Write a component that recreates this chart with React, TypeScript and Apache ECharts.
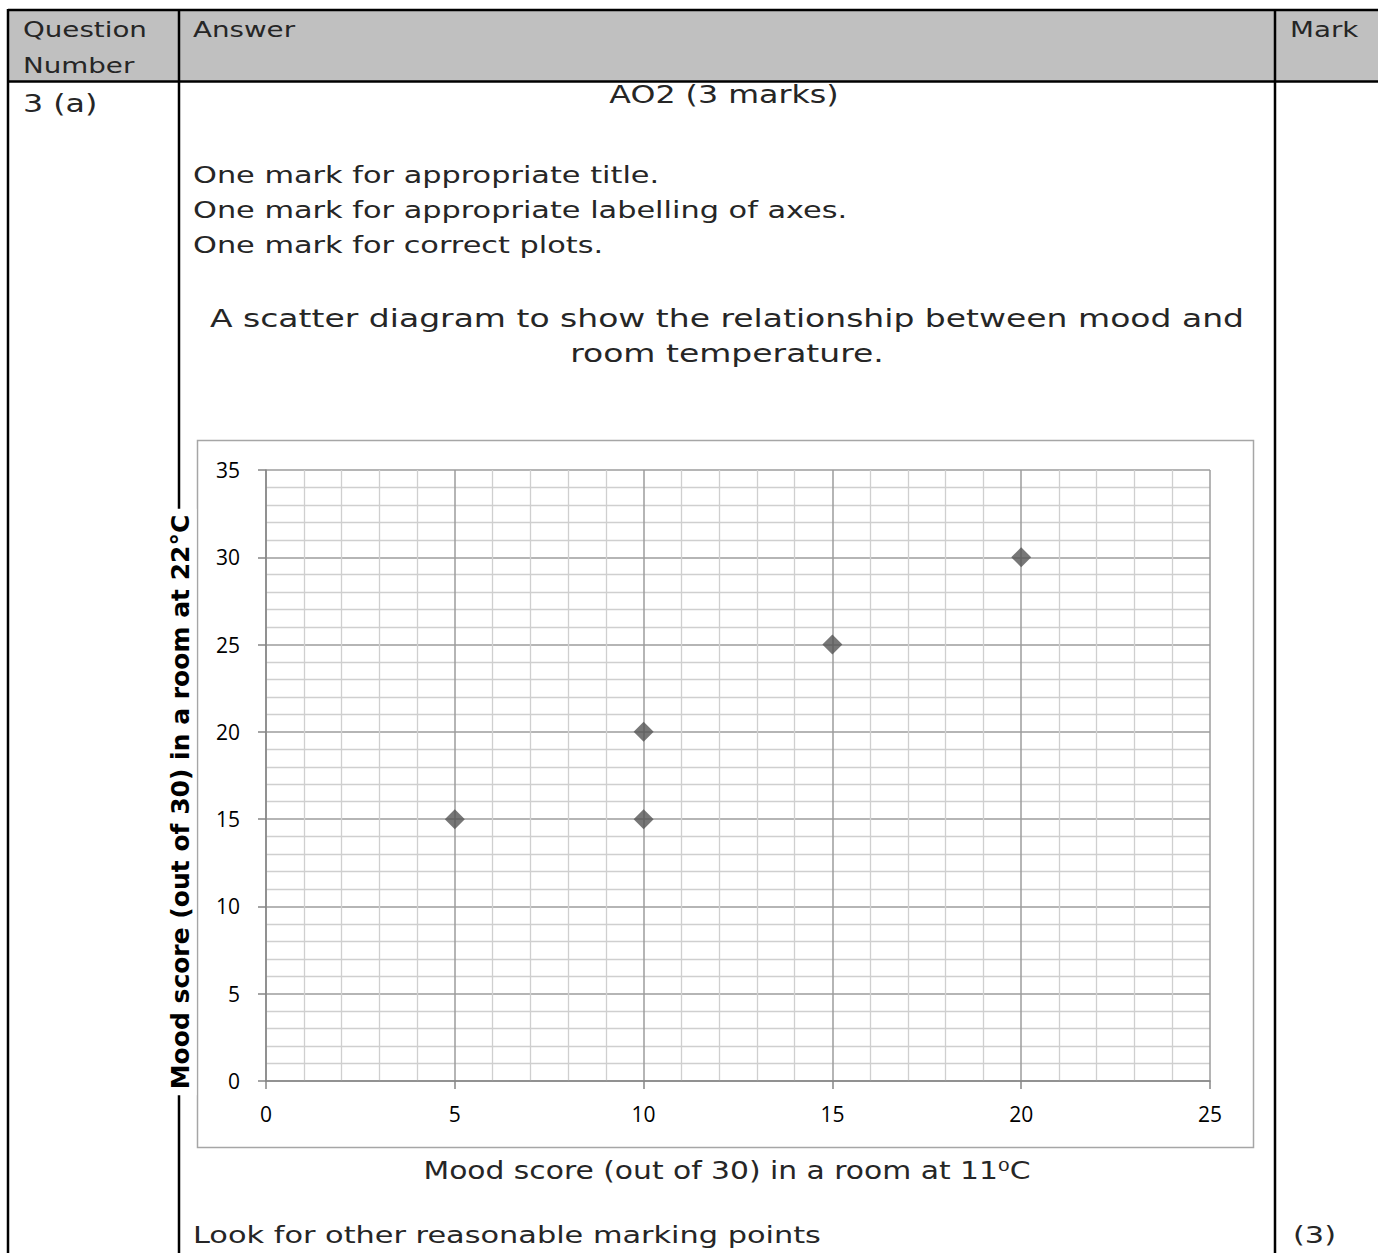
import React, { useEffect, useRef } from "react";
import * as echarts from "echarts";

// ---- data ----
const moodAt11C: number[] = [5, 10, 10, 15, 20];
const moodAt22C: number[] = [15, 15, 20, 25, 30];
const xTicks = { min: 0, max: 25, interval: 5 };
const yTicks = { min: 0, max: 35, interval: 5 };

const headerLabels = ["Question", "Number", "Answer", "Mark"];
const criteria = [
  "One mark for appropriate title.",
  "One mark for appropriate labelling of axes.",
  "One mark for correct plots.",
];
const titleLines = [
  "A scatter diagram to show the relationship between mood and",
  "room temperature.",
];
const xAxisName = "Mood score (out of 30) in a room at 11\u2070C";
const yAxisName = "Mood score (out of 30) in a room at 22\u00B0C";

const BODY_FONT = '"DejaVu Sans"';
const SX = 1.32;

function txt(
  text: string,
  x: number,
  y: number,
  size: number,
  align: string = "left",
  scaleX: number = SX,
  color: string = "#262626"
) {
  return {
    type: "text",
    x,
    y,
    scaleX,
    z: 5,
    style: {
      text,
      fill: color,
      font: `${size}px ${BODY_FONT}`,
      align,
      verticalAlign: "middle",
    },
  };
}

function ln(x1: number, y1: number, x2: number, y2: number, w = 2.5) {
  return {
    type: "line",
    z: 2,
    shape: { x1, y1, x2, y2 },
    style: { stroke: "#000", lineWidth: w },
  };
}

export default function App() {
  const ref = useRef<HTMLDivElement>(null);
  useEffect(() => {
    if (!ref.current) return;
    const chart = echarts.init(ref.current, null, { renderer: "svg" });
    const points = moodAt11C.map((x, i) => [x, moodAt22C[i]]);
    const axisCommon = {
      type: "value",
      axisLine: { show: true, lineStyle: { color: "#868686", width: 1.5 } },
      axisTick: { show: true, length: 8, inside: false, lineStyle: { color: "#868686", width: 1.5 } },
      axisLabel: { fontFamily: '"Open Sans"', fontSize: 21, color: "#000", fontWeight: 500 },
      splitLine: { show: true, lineStyle: { color: "#9c9c9c", width: 1.5 } },
      minorTick: { show: false, splitNumber: 5 },
      minorSplitLine: { show: true, lineStyle: { color: "#cfcfcf", width: 1.3 } },
    };
    chart.setOption({
      animation: false,
      backgroundColor: "#fff",
      grid: { left: 266, top: 470, width: 944, height: 611, containLabel: false },
      xAxis: {
        ...axisCommon,
        min: xTicks.min,
        max: xTicks.max,
        interval: xTicks.interval,
        axisLabel: { ...axisCommon.axisLabel, margin: 22 },
      },
      yAxis: {
        ...axisCommon,
        min: yTicks.min,
        max: yTicks.max,
        interval: yTicks.interval,
        axisLabel: { ...axisCommon.axisLabel, margin: 26 },
      },
      series: [
        {
          type: "scatter",
          data: points,
          symbol: "diamond",
          symbolSize: 20,
          itemStyle: { color: "#555555" },
          z: 5,
        },
      ],
      graphic: {
        elements: [
          {
            type: "rect",
            z: 0,
            shape: { x: 8, y: 10, width: 1370, height: 71 },
            style: { fill: "#c0c0c0" },
          },
          ln(8, 10, 1378, 10),
          ln(8, 81.5, 1378, 81.5),
          ln(8, 9, 8, 1253),
          ln(179, 10, 179, 1253),
          ln(1275, 10, 1275, 1253),
          {
            type: "rect",
            z: 1,
            shape: { x: 197.5, y: 440.5, width: 1056, height: 707 },
            style: { fill: "none", stroke: "#a6a6a6", lineWidth: 1.5 },
          },
          txt(headerLabels[0], 23, 30, 21),
          txt(headerLabels[1], 23, 66, 21),
          txt(headerLabels[2], 193, 30, 21),
          txt(headerLabels[3], 1290, 30, 21),
          txt("3 (a)", 23, 104, 24),
          txt("AO2 (3 marks)", 724, 95, 24, "center"),
          txt(criteria[0], 193, 175, 23),
          txt(criteria[1], 193, 210, 23),
          txt(criteria[2], 193, 245, 23),
          txt(titleLines[0], 727, 318, 25, "center"),
          txt(titleLines[1], 727, 353, 25, "center"),
          txt(xAxisName, 727, 1170, 25, "center", 1.19),
          txt("Look for other reasonable marking points", 193, 1235, 23),
          txt("(3)", 1293, 1235, 23),
          {
            type: "text",
            x: 180,
            y: 802,
            rotation: Math.PI / 2,
            z: 10,
            style: {
              text: yAxisName,
              fill: "#000",
              font: `bold 25px ${BODY_FONT}`,
              align: "center",
              verticalAlign: "middle",
              backgroundColor: "#fff",
              padding: [4, 6],
            },
          },
        ],
      },
    });
    return () => chart.dispose();
  }, []);
  return (
    <div
      ref={ref}
      style={{ position: "absolute", left: 0, top: 0, width: 1378, height: 1253 }}
    />
  );
}
